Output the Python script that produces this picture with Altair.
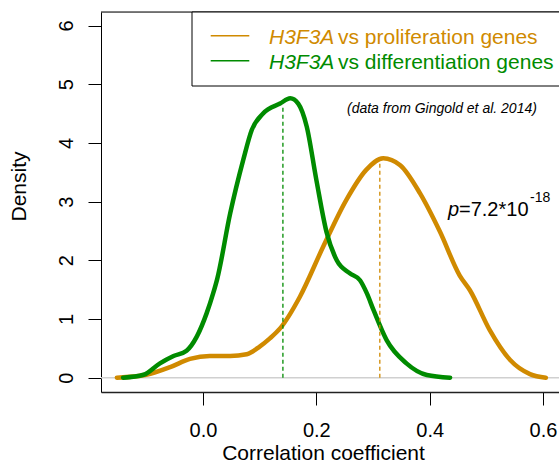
import altair as alt
import pandas as pd

# ---- data ----
green_x = [-0.141, -0.105, -0.076, -0.052, -0.029, -0.011, 0.0065, 0.018, 0.025, 0.048,
           0.071, 0.086, 0.106, 0.136, 0.154, 0.168, 0.183, 0.200, 0.218, 0.236,
           0.259, 0.277, 0.289, 0.301, 0.324, 0.359, 0.395, 0.436]
green_y = [0.0, 0.05, 0.245, 0.37, 0.46, 0.70, 1.10, 1.44, 1.68, 2.80,
           3.71, 4.22, 4.50, 4.67, 4.76, 4.67, 4.28, 3.37, 2.48, 2.00,
           1.78, 1.66, 1.44, 1.15, 0.64, 0.245, 0.046, 0.0]

orange_x = [-0.152, -0.100, -0.058, -0.023, 0.012, 0.048, 0.077, 0.100, 0.118, 0.136,
            0.171, 0.212, 0.253, 0.288, 0.318, 0.348, 0.383, 0.418, 0.453, 0.471,
            0.506, 0.542, 0.577, 0.605]
orange_y = [0.0, 0.05, 0.18, 0.32, 0.37, 0.37, 0.40, 0.53, 0.67, 0.84,
            1.38, 2.23, 3.03, 3.54, 3.74, 3.62, 3.14, 2.49, 1.74, 1.49,
            0.81, 0.30, 0.06, 0.0]

series_names = ["H3F3A vs proliferation genes", "H3F3A vs differentiation genes"]
series_colors = ["#D08A00", "#008B00"]
median_x = [0.312, 0.141]
median_y = [3.74, 4.62]

x_ticks = [0.0, 0.2, 0.4, 0.6]
y_ticks = [0, 1, 2, 3, 4, 5, 6]

FONT = "Liberation Sans"
W, H = 458, 380
X_DOM = [-0.18, -0.18 + W / 566.7]
Y_DOM = [-0.2436, 6.230]

curves = pd.DataFrame({
    "x": orange_x + green_x,
    "y": orange_y + green_y,
    "series": [series_names[0]] * len(orange_x) + [series_names[1]] * len(green_x),
})
medians = pd.DataFrame({"x": median_x, "y0": [0, 0], "y1": median_y, "series": series_names})

xs = alt.Scale(domain=X_DOM, nice=False, zero=False)
ys = alt.Scale(domain=Y_DOM, nice=False, zero=False)
cs = alt.Scale(domain=series_names, range=series_colors)

xaxis = alt.Axis(values=x_ticks, format=".1f", tickSize=13, tickColor="black",
                 labelPadding=31, labelBaseline="alphabetic", labelFontSize=20,
                 labelFont=FONT, labelColor="black", labelFlush=False,
                 domain=True, domainColor="#222", domainWidth=1.5, grid=False,
                 title="Correlation coefficient", titleFont=FONT, titleFontSize=21,
                 titleFontWeight="normal", titleColor="black", titleX=222, titleY=67,
                 titleAlign="center", titleBaseline="alphabetic")
yaxis = alt.Axis(values=y_ticks, format="d", tickSize=13, tickColor="black", labelAngle=270,
                 labelAlign="center", labelBaseline="alphabetic", labelPadding=16,
                 labelFontSize=20, labelFont=FONT, labelColor="black",
                 domain=True, domainColor="black", domainWidth=1, grid=False,
                 title="Density", titleFont=FONT,
                 titleFontSize=21, titleFontWeight="normal", titleColor="black",
                 titleAngle=270, titleX=-76, titleY=174, titleAlign="center",
                 titleBaseline="alphabetic")

zero = alt.Chart(pd.DataFrame({"y": [0]})).mark_rule(color="#d0d0d0", strokeWidth=1.5).encode(
    y=alt.Y("y:Q", scale=ys, axis=yaxis))

top_line = alt.Chart(pd.DataFrame({"a": [0]})).mark_rule(color="black", strokeWidth=1).encode(
    x=alt.value(0), x2=alt.value(W + 5), y=alt.value(0))

lines = alt.Chart(curves).mark_line(strokeWidth=4.5, interpolate="monotone", strokeCap="round").encode(
    x=alt.X("x:Q", scale=xs, axis=xaxis),
    y=alt.Y("y:Q", scale=ys),
    color=alt.Color("series:N", scale=cs, legend=None),
    detail="series:N",
)

dashes = alt.Chart(medians).mark_rule(strokeWidth=1.3, strokeDash=[4, 3]).encode(
    x=alt.X("x:Q", scale=xs),
    y=alt.Y("y0:Q", scale=ys),
    y2="y1:Q",
    color=alt.Color("series:N", scale=cs, legend=None),
)

# ---- custom legend (pixel positions relative to plot origin) ----
leg = pd.DataFrame({
    "series": series_names,
    "ly": [23.7, 48.7],
    "ty": [31.5, 56.5],
    "ital": ["H3F3A", "H3F3A"],
    "rest": ["vs proliferation genes", "vs differentiation genes"],
})
leg_box = alt.Chart(pd.DataFrame({"a": [0]})).mark_rect(
    fill="white", stroke="black", strokeWidth=1).encode(
    x=alt.value(91), x2=alt.value(W + 10), y=alt.value(0), y2=alt.value(74))
leg_lines = alt.Chart(leg).mark_rule(strokeWidth=1.5).encode(
    x=alt.value(109.7), x2=alt.value(148.3),
    y=alt.Y("ly:Q", scale=None),
    color=alt.Color("series:N", scale=cs, legend=None))
leg_ital = alt.Chart(leg).mark_text(font=FONT, fontSize=21, fontStyle="italic",
                                    align="left", baseline="alphabetic").encode(
    x=alt.value(168), y=alt.Y("ty:Q", scale=None), text="ital:N",
    color=alt.Color("series:N", scale=cs, legend=None))
leg_rest = alt.Chart(leg).mark_text(font=FONT, fontSize=21,
                                    align="left", baseline="alphabetic").encode(
    x=alt.value(237), y=alt.Y("ty:Q", scale=None), text="rest:N",
    color=alt.Color("series:N", scale=cs, legend=None))

# ---- annotations ----
ann_src = alt.Chart(pd.DataFrame({"t": ["(data from Gingold et al. 2014)"]})).mark_text(
    font=FONT, fontSize=14, fontStyle="italic", align="left", baseline="alphabetic",
    color="black").encode(x=alt.value(246), y=alt.value(101), text="t:N")
ann_p = alt.Chart(pd.DataFrame({"t": ["p"]})).mark_text(
    font=FONT, fontSize=20, fontStyle="italic", align="left", baseline="alphabetic",
    color="black").encode(x=alt.value(347), y=alt.value(204), text="t:N")
ann_val = alt.Chart(pd.DataFrame({"t": ["=7.2*10"]})).mark_text(
    font=FONT, fontSize=20, align="left", baseline="alphabetic",
    color="black").encode(x=alt.value(358), y=alt.value(204), text="t:N")
ann_exp = alt.Chart(pd.DataFrame({"t": ["-18"]})).mark_text(
    font=FONT, fontSize=14, align="left", baseline="alphabetic",
    color="black").encode(x=alt.value(429), y=alt.value(190), text="t:N")

chart = alt.layer(
    zero, top_line, lines, dashes, leg_box, leg_lines, leg_ital, leg_rest,
    ann_src, ann_p, ann_val, ann_exp
).properties(
    width=W, height=H,
    padding={"left": 101, "top": 12, "right": 0, "bottom": 71},
    autosize=alt.AutoSizeParams(type="none"),
).configure_view(stroke=None).configure(background="white")

chart.save("out.html", embed_options={"renderer": "svg", "actions": False})
